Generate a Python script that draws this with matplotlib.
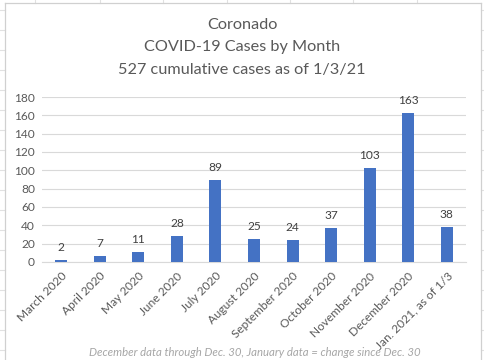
import matplotlib
matplotlib.use("Agg")
import matplotlib.pyplot as plt
from matplotlib.lines import Line2D

categories = ["March 2020", "April 2020", "May 2020", "June 2020", "July 2020",
              "August 2020", "September 2020", "October 2020", "November 2020",
              "December 2020", "Jan. 2021, as of 1/3"]
cases = [2, 7, 11, 28, 89, 25, 24, 37, 103, 163, 38]
yticks = [0, 20, 40, 60, 80, 100, 120, 140, 160, 180]
title_lines = ["Coronado", "COVID-19 Cases by Month", "527 cumulative cases as of 1/3/21"]
footnote = "December data through Dec. 30, January data = change since Dec. 30"

plt.rcParams['font.family'] = ['Lato', 'DejaVu Sans']

W, H = 485, 360
fig = plt.figure(figsize=(W / 100, H / 100), dpi=100)
fig.patch.set_facecolor("white")

def fx(px):
    return px / W

def fy(py):
    return 1 - py / H

# spreadsheet background gridlines outside the chart
grid_c = "#e1e1e1"
for x in [35, 100, 163, 227, 290, 353, 417]:
    fig.add_artist(Line2D([fx(x), fx(x)], [fy(0), fy(3)], color=grid_c, lw=0.8))
for y in range(10, 361, 20):
    fig.add_artist(Line2D([fx(0), fx(5)], [fy(y), fy(y)], color=grid_c, lw=0.8))
    fig.add_artist(Line2D([fx(481), fx(485)], [fy(y), fy(y)], color=grid_c, lw=0.8))
# chart border
border_c = "#d0d0d0"
fig.add_artist(Line2D([fx(5), fx(481)], [fy(3), fy(3)], color=border_c, lw=0.9))
fig.add_artist(Line2D([fx(5), fx(5)], [fy(3), fy(360)], color=border_c, lw=0.9))
fig.add_artist(Line2D([fx(481), fx(481)], [fy(3), fy(360)], color=border_c, lw=0.9))

ax = fig.add_axes([fx(42), fy(262), fx(466) - fx(42), fy(97) - fy(262)])
x = list(range(len(categories)))
bars = ax.bar(x, cases, width=0.31, color="#4472C4", zorder=3)
ax.set_xlim(-0.5, len(categories) - 0.5)
ax.set_ylim(0, 180)
ax.set_yticks(yticks)
ax.set_yticklabels([str(t) for t in yticks], fontsize=8.6, color="#595959")
ax.grid(axis="y", color="#d9d9d9", lw=0.8, zorder=0)
ax.set_xticks(x)
ax.set_xticklabels(categories, rotation=45, ha="right", rotation_mode="anchor",
                   fontsize=8.6, color="#595959")
for s in ["top", "right", "left"]:
    ax.spines[s].set_visible(False)
ax.spines["bottom"].set_color("#d9d9d9")
ax.tick_params(axis="both", length=0, pad=5)
ax.tick_params(axis="x", pad=6)

for xi, v in zip(x, cases):
    ax.annotate(str(v), (xi, v), xytext=(0, 5), textcoords="offset points",
                ha="center", va="bottom", fontsize=8.6, color="#404040")

for i, line in enumerate(title_lines):
    fig.text(fx(242), fy(25 + i * 22.5), line, ha="center", va="center",
             fontsize=11.7, color="#595959")

fig.text(fx(255), fy(347.5), footnote, ha="center", va="top", fontsize=8.2,
         style="italic", color="#a6a6a6")

fig.savefig("out.png", dpi=100, facecolor="white")
